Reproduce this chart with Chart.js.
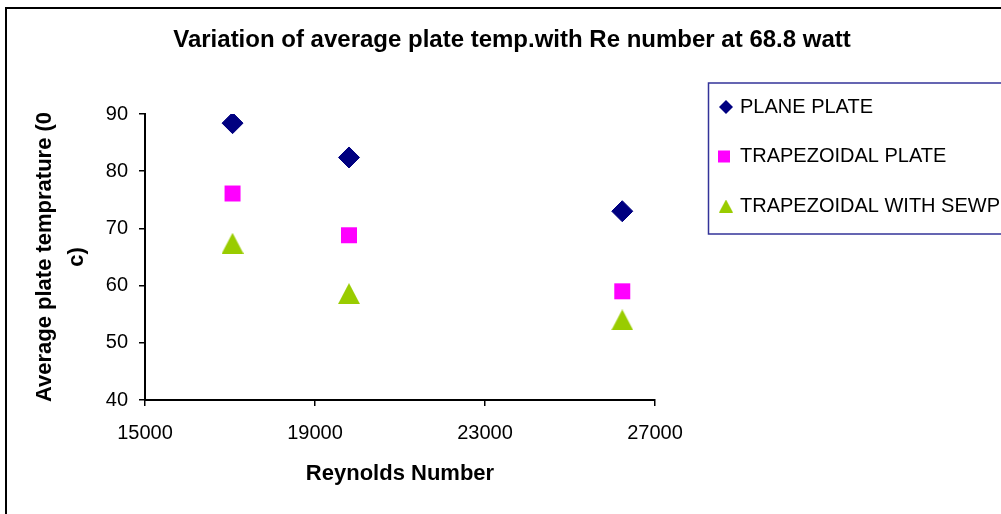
<!DOCTYPE html>
<html>
<head>
<meta charset="utf-8">
<script src="https://cdn.jsdelivr.net/npm/chart.js@4.4.1/dist/chart.umd.min.js"></script>
<style>
  html, body { margin: 0; padding: 0; background: #fff; }
  canvas { display: block; }
</style>
</head>
<body>
<canvas id="chart" width="1001" height="514"></canvas>
<script>
const reynolds = [17060, 19800, 26230]
const planePlate = [88.4, 82.4, 73.0]
const trapezoidalPlate = [76.1, 68.8, 59.0]
const trapezoidalSewp = [67.4, 58.6, 54.0]
const seriesLabels = ['PLANE PLATE', 'TRAPEZOIDAL PLATE', 'TRAPEZOIDAL WITH SEWP']
const xTicks = [15000, 19000, 23000, 27000]
const yTicks = [40, 50, 60, 70, 80, 90]

const family = '"Liberation Sans", Arial, sans-serif'
const navy = '#000080'
const magenta = '#ff00ff'
const lime = '#99cc00'

// excel style triangle, centred on its bounding box
function triangle(w, h, color) {
    const c = document.createElement('canvas')
    c.width = w
    c.height = h
    const ctx = c.getContext('2d')
    ctx.fillStyle = color
    ctx.beginPath()
    ctx.moveTo(w / 2, 0)
    ctx.lineTo(w, h)
    ctx.lineTo(0, h)
    ctx.closePath()
    ctx.fill()
    return c
}

const bigTriangle = triangle(22, 21, lime)
const smallTriangle = triangle(14, 13, lime)

const points = values => reynolds.map((x, i) => ({ x, y: values[i] }))

const frame = {
    id: 'frame',
    beforeDraw({ ctx }) {
        ctx.save()
        ctx.fillStyle = '#fff'
        ctx.fillRect(0, 0, 1001, 514)
        ctx.strokeStyle = '#000'
        ctx.lineWidth = 2
        ctx.strokeRect(6, 8, 1100, 600)
        ctx.restore()
    }
}

const boxLegend = {
    id: 'boxLegend',
    afterDraw(chart) {
        const { ctx } = chart
        ctx.save()
        ctx.strokeStyle = '#333399'
        ctx.lineWidth = 1.5
        ctx.strokeRect(708.5, 83, 320, 151)
        ctx.font = '20px ' + family
        ctx.textBaseline = 'middle'

        chart.data.datasets.forEach((ds, i) => {
            const y = 107 + i * 49.5
            ctx.fillStyle = ds.backgroundColor
            if (ds.pointStyle === 'rectRot') {
                Chart.helpers.drawPoint(ctx, { pointStyle: 'rectRot', radius: 7, rotation: 0, borderWidth: 0 }, 726, y)
            } else if (ds.pointStyle === 'rect') {
                ctx.fillRect(718, y - 6, 12, 12)
            } else {
                ctx.drawImage(smallTriangle, 719, y - 6.5, 14, 13)
            }
            ctx.fillStyle = '#000'
            ctx.fillText(ds.label, 740, y)
        })
        ctx.restore()
    }
}

new Chart(document.getElementById('chart'), {
    type: 'scatter',
    data: {
        datasets: [{
            label: seriesLabels[0],
            data: points(planePlate),
            pointStyle: 'rectRot',
            pointRadius: 10.5,
            borderWidth: 1,
            backgroundColor: navy,
            borderColor: navy,
        }, {
            label: seriesLabels[1],
            data: points(trapezoidalPlate),
            pointStyle: 'rect',
            pointRadius: 11.3,
            borderWidth: 0,
            backgroundColor: magenta,
            borderColor: magenta,
        }, {
            label: seriesLabels[2],
            data: points(trapezoidalSewp),
            pointStyle: bigTriangle,
            pointRadius: 11,
            borderWidth: 0,
            backgroundColor: lime,
            borderColor: lime,
        }]
    },
    options: {
        responsive: false,
        animation: false,
        devicePixelRatio: 1,
        color: '#000',
        layout: { padding: { left: 23, right: 0, top: 0, bottom: 0 } },
        plugins: {
            legend: { display: false },
            tooltip: { enabled: false },
            title: {
                display: true,
                text: 'Variation of average plate temp.with Re number at 68.8 watt',
                color: '#000',
                font: { family, size: 24, weight: 'bold' },
                padding: { top: 25.6, bottom: 59.6 },
            },
        },
        scales: {
            x: {
                type: 'linear',
                min: xTicks[0],
                max: xTicks[xTicks.length - 1],
                afterBuildTicks: scale => { scale.ticks = xTicks.map(value => ({ value })) },
                afterFit: scale => { scale.height = 114 },
                border: { color: '#000', width: 2 },
                grid: { drawOnChartArea: false, tickLength: 6, color: '#000', lineWidth: 1.5 },
                ticks: {
                    color: '#000',
                    padding: 15,
                    font: { family, size: 20 },
                    callback: v => String(v),
                },
                title: {
                    display: true,
                    text: 'Reynolds Number',
                    color: '#000',
                    font: { family, size: 22, weight: 'bold' },
                    padding: { top: 0, bottom: 26.8 },
                },
            },
            y: {
                type: 'linear',
                min: yTicks[0],
                max: yTicks[yTicks.length - 1],
                afterBuildTicks: scale => { scale.ticks = yTicks.map(value => ({ value })) },
                afterFit: scale => { scale.width = 122 },
                border: { color: '#000', width: 2 },
                grid: { drawOnChartArea: false, tickLength: 6, color: '#000', lineWidth: 1.5 },
                ticks: {
                    color: '#000',
                    padding: 11,
                    font: { family, size: 20 },
                },
                title: {
                    display: true,
                    text: ['Average plate temprature (0', 'c)'],
                    color: '#000',
                    font: { family, size: 22, weight: 'bold', lineHeight: '32px' },
                    padding: { top: 6, bottom: 0 },
                },
            },
            // empty space on the right where the legend box sits
            gap: {
                type: 'linear',
                position: 'right',
                afterFit: scale => { scale.width = 346 },
                border: { display: false },
                grid: { display: false },
                ticks: { display: false },
            },
        },
    },
    plugins: [frame, boxLegend],
})
</script>
</body>
</html>
